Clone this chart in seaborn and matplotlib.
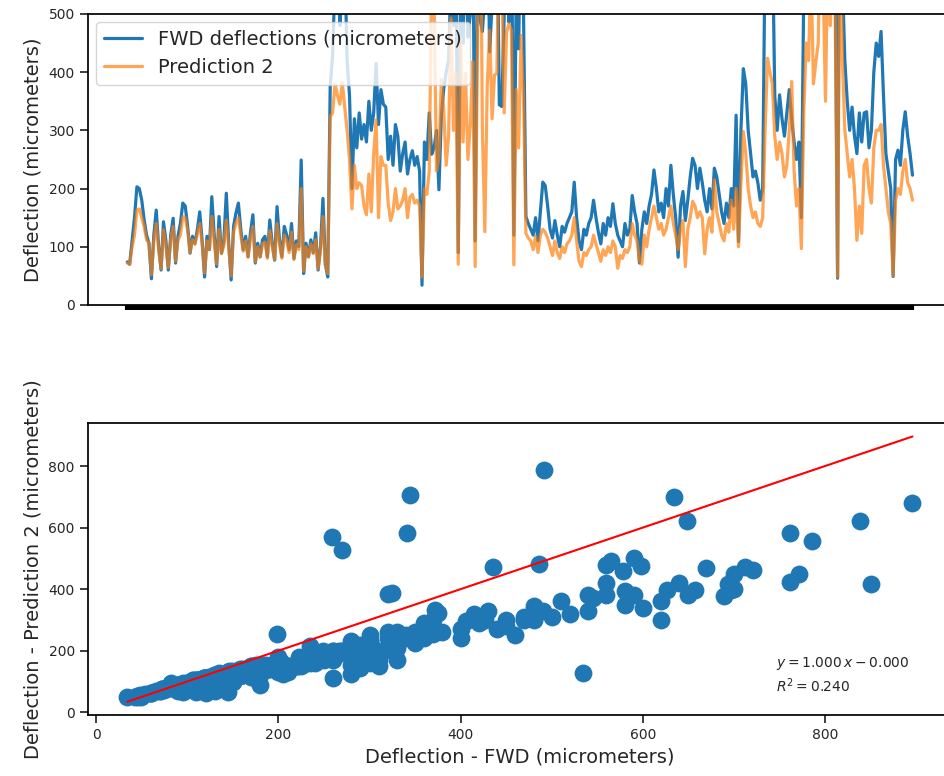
import numpy as np
import pandas as pd
import matplotlib
matplotlib.use("Agg")
import matplotlib.pyplot as plt
import seaborn as sns

# FWD deflections (micrometers), one value per test point, in survey order
fwd_a = [74, 70, 110, 150, 203, 200, 180, 146, 120, 106,
         45, 120, 163, 100, 60, 143, 110, 60, 120, 149,
         72, 118, 140, 175, 170, 135, 89, 118, 106, 129,
         160, 110, 48, 118, 95, 186, 120, 66, 152, 89,
         110, 192, 106, 43, 135, 158, 175, 130, 95, 118,
         83, 124, 155, 72, 106, 83, 112, 118, 83, 146,
         106, 77, 169, 112, 83, 135, 120, 95, 140, 80,
         110, 100, 249, 54, 106, 83, 112, 90, 124, 60,
         100, 183, 70, 48]
fwd_b = [375, 430, 560, 620, 480, 540, 600, 420,
         360, 200, 320, 270, 330, 285, 310, 280, 350, 300,
         330, 415, 310, 370, 345, 340, 250, 290, 240, 310,
         290, 230, 260, 280, 225, 250, 265, 240, 255, 230,
         34,
         280, 250, 330, 259, 270, 300, 198, 325, 372,
         400, 420, 565, 480, 627, 90, 578, 450, 657, 460,
         500, 693, 110, 598, 491, 470, 534, 689, 435, 520,
         580, 697, 344, 341, 490, 669, 486, 712, 120, 545,
         440, 721, 510]
fwd_c = [152, 140, 130, 120, 150, 110, 160, 211, 205, 170,
         130, 115, 145, 120, 100, 135, 125, 140, 150, 160,
         211, 150, 110, 95, 130, 120, 140, 150, 180, 150,
         125, 105, 140, 120, 150, 135, 174, 140, 120, 110,
         100, 140, 120, 130, 188, 160, 140, 72, 130, 160,
         140, 170, 190, 232, 200, 160, 175, 150, 200, 170,
         240, 190, 150, 82, 170, 195, 145, 180, 220, 252,
         240, 200, 235, 210, 180, 160, 200, 165, 235, 220,
         190, 160, 140, 175, 150, 200, 170, 326, 109, 300,
         406, 380, 300, 260, 220, 230, 210, 180, 200]
fwd_d = [620, 762, 700, 650, 360, 300, 361, 320, 290, 330,
         370, 320, 280, 250, 280, 150, 540, 771, 640, 762,
         590, 850, 700, 634, 786, 580, 648, 560, 838, 590,
         46, 896, 560, 420, 350, 300, 340, 290, 260, 330,
         280, 330, 332, 270, 300, 400, 450, 427, 470, 360,
         260, 230, 200, 49, 250, 266, 240, 300, 332, 290,
         260, 223]

# Second model's predicted deflections (micrometers) for the same points
pred_a = [72, 70, 100, 120, 163, 165, 150, 135, 112, 106,
          52, 110, 140, 95, 62, 129, 100, 64, 112, 135,
          75, 112, 120, 152, 150, 128, 90, 112, 104, 122,
          140, 105, 55, 110, 95, 152, 110, 70, 130, 88,
          102, 146, 100, 50, 125, 140, 150, 120, 92, 110,
          82, 115, 135, 74, 100, 82, 105, 108, 80, 128,
          100, 78, 140, 105, 80, 120, 110, 90, 125, 78,
          104, 95, 200, 58, 100, 82, 105, 88, 112, 62,
          95, 152, 68, 54]
pred_b = [324, 330, 380, 360, 345, 382, 340, 300,
          250, 165, 240, 200, 210, 205, 170, 155, 225, 160,
          260, 318, 150, 255, 240, 240, 175, 145, 160, 200,
          165, 170, 180, 200, 150, 185, 190, 175, 180, 170,
          48,
          200, 190, 230, 571, 526, 230, 253, 388, 333,
          240, 290, 493, 300, 398, 70, 458, 280, 398, 250,
          310, 418, 66, 474, 787, 300, 126, 377, 472, 320,
          395, 398, 706, 582, 330, 469, 483, 472, 69, 370,
          270, 463, 360]
pred_c = [123, 115, 110, 95, 118, 90, 120, 130, 125, 115,
          100, 85, 110, 90, 80, 100, 90, 105, 110, 120,
          150, 110, 75, 66, 90, 85, 95, 100, 120, 105,
          90, 75, 95, 85, 100, 90, 110, 100, 63, 85,
          80, 95, 90, 100, 140, 120, 110, 75, 70, 120,
          100, 130, 150, 170, 150, 130, 140, 120, 130, 150,
          170, 140, 120, 95, 130, 145, 66, 130, 150, 178,
          170, 150, 160, 150, 88, 130, 150, 125, 215, 160,
          140, 120, 110, 140, 125, 180, 130, 200, 100, 210,
          298, 260, 200, 170, 150, 160, 140, 135, 150]
pred_d = [300, 424, 400, 380, 290, 250, 280, 260, 220, 240,
          300, 384, 230, 170, 200, 97, 330, 450, 420, 581,
          380, 417, 450, 700, 557, 350, 620, 480, 620, 500,
          48, 681, 420, 300, 260, 220, 250, 200, 111, 170,
          123, 240, 250, 200, 175, 270, 300, 300, 310, 240,
          200, 160, 140, 50, 180, 200, 190, 230, 250, 210,
          200, 180]

# Fitted line and score printed on the scatter
slope = 1.000
intercept = 0.000
r_squared = 0.240

fwd = fwd_a + fwd_b + fwd_c + fwd_d
pred2 = pred_a + pred_b + pred_c + pred_d
df = pd.DataFrame({"point": np.arange(len(fwd)), "fwd": fwd, "pred2": pred2})

sns.set_theme(style="ticks")
plt.rcParams["font.family"] = ["DejaVu Sans"]

blue = "#1f77b4"
orange = "#ff7f0e"

fig = plt.figure(figsize=(9.44, 7.76), dpi=100)
ax1 = fig.add_axes([0.0932, 0.607, 0.915, 0.375])
ax2 = fig.add_axes([0.0932, 0.0786, 0.915, 0.376])

# Upper panel: both series along the survey points
sns.lineplot(data=df, x="point", y="fwd", ax=ax1, color=blue, linewidth=2.3,
             label="FWD deflections (micrometers)", estimator=None, sort=False)
sns.lineplot(data=df, x="point", y="pred2", ax=ax1, color=orange, linewidth=2.3,
             alpha=0.7, label="Prediction 2", estimator=None, sort=False)
ax1.set_ylim(0, 500)
ax1.set_xticks(df["point"])
ax1.set_xticklabels([])
ax1.tick_params(axis="x", length=3.5, width=3.0, color="black")
ax1.set_xlabel("")
ax1.set_ylabel("Deflection (micrometers)", fontsize=14)
ax1.tick_params(axis="y", labelsize=10)
ax1.legend(loc="upper left", fontsize=14, framealpha=0.8,
           bbox_to_anchor=(0.0, 1.0), borderaxespad=0.4)
for sp in ax1.spines.values():
    sp.set_color("black")

# Lower panel: prediction against measured deflection
sns.scatterplot(data=df, x="fwd", y="pred2", ax=ax2, color=blue, s=165,
                linewidth=0, alpha=1.0)
xline = np.array([min(fwd), max(fwd)])
ax2.plot(xline, slope * xline + intercept, color="red", linewidth=1.5)
ax2.set_xlabel("Deflection - FWD (micrometers)", fontsize=14)
ax2.set_ylabel("Deflection - Prediction 2 (micrometers)", fontsize=14)
ax2.tick_params(labelsize=10)
ax2.set_xticks([0, 200, 400, 600, 800])
ax2.set_yticks([0, 200, 400, 600, 800])
sign = "-" if intercept <= 0 else "+"
ax2.text(0.797, 0.175, rf"$y = {slope:.3f}\,x {sign} {abs(intercept):.3f}$",
         transform=ax2.transAxes, fontsize=10, va="center", ha="left")
ax2.text(0.797, 0.10, rf"$R^2 = {r_squared:.3f}$",
         transform=ax2.transAxes, fontsize=10, va="center", ha="left")
for sp in ax2.spines.values():
    sp.set_color("black")

fig.savefig("out.png", dpi=100)
